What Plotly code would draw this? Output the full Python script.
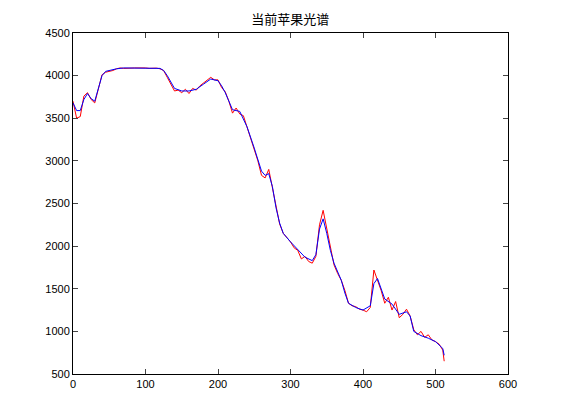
import plotly.graph_objects as go

# blue: smoothed spectrum
blue_x = [0, 5, 10, 15, 20, 25, 30, 35, 40, 45, 50, 60, 70, 80, 100, 120, 125, 130, 140, 150,
          160, 170, 180, 190, 200, 205, 210, 215, 220, 230, 240, 250, 260, 265, 270, 275, 280,
          285, 290, 300, 310, 320, 330, 335, 340, 345, 350, 355, 360, 370, 375, 380, 390, 400,
          410, 415, 420, 425, 430, 440, 450, 460, 465, 470, 480, 490, 500, 510, 512]
blue_y = [3680, 3590, 3590, 3720, 3790, 3730, 3700, 3850, 4000, 4050, 4060, 4080, 4090, 4090,
          4090, 4085, 4060, 4000, 3850, 3820, 3820, 3840, 3900, 3960, 3940, 3880, 3800, 3700,
          3600, 3580, 3400, 3150, 2880, 2830, 2850, 2700, 2450, 2270, 2150, 2050, 1960, 1870,
          1830, 1900, 2200, 2320, 2150, 1950, 1800, 1600, 1450, 1330, 1280, 1250, 1300, 1560,
          1620, 1500, 1380, 1320, 1200, 1230, 1180, 1000, 950, 920, 880, 800, 720]

# red: raw spectrum
red_x = list(range(0, 511, 5)) + [512]
red_y = [3700, 3500, 3520, 3760, 3800, 3720, 3680, 3860, 4010, 4040, 4050, 4060, 4080, 4090,
         4085, 4090, 4088, 4090, 4092, 4088, 4090, 4085, 4090, 4088, 4080, 4060, 3980, 3900,
         3820, 3830, 3800, 3840, 3790, 3850, 3830, 3880, 3910, 3950, 3980, 3950, 3950, 3860,
         3810, 3700, 3560, 3620, 3550, 3530, 3400, 3270, 3150, 3000, 2830, 2800, 2900, 2680,
         2460, 2260, 2150, 2100, 2050, 1980, 1950, 1850, 1880, 1820, 1800, 1880, 2250, 2420,
         2200, 1980, 1780, 1680, 1600, 1480, 1330, 1300, 1290, 1260, 1250, 1230, 1280, 1720,
         1600, 1480, 1330, 1400, 1250, 1350, 1160, 1200, 1260, 1180, 1020, 960, 1000, 930,
         960, 900, 880, 850, 780, 650]

fig = go.Figure()
fig.add_trace(go.Scatter(x=red_x, y=red_y, mode="lines", line=dict(color="red", width=1)))
fig.add_trace(go.Scatter(x=blue_x, y=blue_y, mode="lines", line=dict(color="blue", width=1)))

axis = dict(showgrid=False, zeroline=False, mirror="ticks", ticks="inside", ticklen=5,
            showline=True, linecolor="black", linewidth=1, automargin=False,
            tickfont=dict(size=11, color="black"))
fig.update_xaxes(range=[0, 600], dtick=100, **axis)
fig.update_yaxes(range=[500, 4500], dtick=500, **axis)
fig.update_layout(
    width=561, height=420, showlegend=False,
    title=dict(text="当前苹果光谱", x=0.503, y=0.972, xanchor="center", yanchor="middle",
               automargin=False,
               font=dict(family="Noto Sans CJK SC", size=13, color="black")),
    font=dict(family="Arial, Liberation Sans"),
    margin=dict(l=65, r=61, t=25, b=54),
    plot_bgcolor="white", paper_bgcolor="white",
)
fig.write_html("out.html")
